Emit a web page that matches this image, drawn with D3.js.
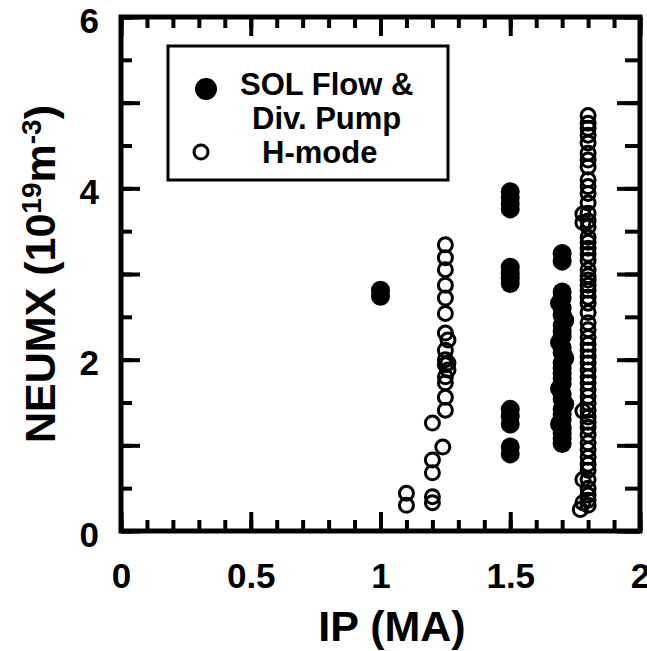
<!DOCTYPE html>
<html>
<head>
<meta charset="utf-8">
<script src="https://cdn.jsdelivr.net/npm/d3@7"></script>
<style>
  body { margin: 0; background: #ffffff; }
  text { font-family: "Liberation Sans", Arial, Helvetica, sans-serif; font-weight: bold; fill: #000; }
</style>
</head>
<body>
<div id="chart"></div>
<script>
// SOL Flow & Div. Pump (filled markers)
const solX = [1.0, 1.0,
  1.5, 1.5, 1.5, 1.5, 1.5, 1.5, 1.5, 1.5, 1.5, 1.5, 1.5, 1.5, 1.5,
  1.7, 1.7,
  1.7, 1.7, 1.69, 1.7, 1.7, 1.71, 1.7, 1.7, 1.7, 1.69, 1.7, 1.7, 1.71, 1.7, 1.7,
  1.7, 1.7, 1.7, 1.69, 1.7, 1.7, 1.71, 1.7, 1.7, 1.7, 1.69, 1.7, 1.7, 1.7, 1.7];
const solY = [2.74, 2.81,
  3.96, 3.89, 3.82, 3.76, 3.08, 3.01, 2.95, 2.89, 1.42, 1.34, 1.25, 0.98, 0.9,
  3.24, 3.15,
  2.79, 2.72, 2.66, 2.6, 2.52, 2.46, 2.4, 2.33, 2.27, 2.2, 2.14, 2.08, 2.02, 1.96, 1.9,
  1.84, 1.78, 1.72, 1.66, 1.6, 1.54, 1.48, 1.42, 1.36, 1.3, 1.25, 1.2, 1.14, 1.08, 1.02];

// H-mode (open markers)
const hX = [1.1, 1.1,
  1.2, 1.2, 1.2, 1.2, 1.2, 1.24,
  1.25, 1.25, 1.25, 1.25, 1.25, 1.25, 1.25, 1.26, 1.25, 1.25, 1.26, 1.25, 1.26, 1.25, 1.25, 1.25, 1.25,
  1.8, 1.8, 1.8, 1.8, 1.8, 1.8, 1.8, 1.8, 1.8, 1.8, 1.8, 1.8, 1.8, 1.8, 1.8, 1.8, 1.8,
  1.8, 1.8, 1.8, 1.8, 1.8, 1.8, 1.8, 1.8, 1.8, 1.8, 1.8, 1.8, 1.8, 1.8, 1.8, 1.8,
  1.8, 1.8, 1.8, 1.8, 1.8, 1.8, 1.8, 1.8, 1.8, 1.8, 1.8, 1.8, 1.8, 1.8, 1.8, 1.8,
  1.8, 1.8, 1.8, 1.8, 1.8, 1.8, 1.8,
  1.77, 1.78, 1.78, 1.78, 1.78, 1.78];
const hY = [0.44, 0.3,
  0.4, 0.33, 0.68, 0.83, 1.26, 0.98,
  3.34, 3.19, 3.05, 2.87, 2.72, 2.54, 2.31, 2.23, 2.11, 2.0, 1.96, 1.94, 1.88, 1.8, 1.73, 1.56, 1.41,
  4.85, 4.76, 4.7, 4.62, 4.53, 4.41, 4.33, 4.25, 4.1, 4.02, 3.94, 3.83, 3.71, 3.62, 3.55, 3.43, 3.37,
  3.3, 3.23, 3.16, 3.05, 2.98, 2.93, 2.87, 2.81, 2.73, 2.66, 2.55, 2.43, 2.35, 2.26, 2.18,
  2.11, 2.03, 1.96, 1.88, 1.8, 1.73, 1.65, 1.57, 1.49, 1.41, 1.33, 1.27, 1.21, 1.12, 1.03, 0.95,
  0.86, 0.78, 0.71, 0.6, 0.5, 0.42, 0.36, 0.3, 0.25,
  3.6, 3.7, 1.4, 0.6, 0.33, 0.21];

// axes
const xMajor = [0, 0.5, 1, 1.5, 2];
const xLabels = ["0", "0.5", "1", "1.5", "2"];
const yMajor = [0, 2, 4, 6];
const yLabels = ["0", "2", "4", "6"];

const WIDTH = 647;
const HEIGHT = 651;

window.onload = function() {
  let svg = d3.select("#chart").append("svg")
    .attr("width", WIDTH)
    .attr("height", HEIGHT);

  let x = d3.scaleLinear().domain([0, 2]).range([121, 640]);
  let y = d3.scaleLinear().domain([0, 6]).range([531, 17]);

  drawTicks(svg, x, y);
  drawPoints(svg, x, y);
  drawFrame(svg, x, y);
  drawLabels(svg, x, y);
  drawLegend(svg);
};

function tickAxis(svg, axis, transform) {
  let g = svg.append("g").attr("transform", transform).call(axis);
  g.select(".domain").remove();
  g.selectAll(".tick line").attr("stroke", "#000").attr("stroke-width", 4);
  return g;
}

function drawTicks(svg, x, y) {
  let xMinor = d3.range(0, 21).map(d => d / 10);
  let yMinor = d3.range(0, 13).map(d => d / 2);
  let yInt = d3.range(0, 7);

  // bottom / top
  tickAxis(svg, d3.axisBottom(x).tickValues(xMinor).tickSize(-11).tickFormat(""), "translate(0," + y(0) + ")");
  tickAxis(svg, d3.axisBottom(x).tickValues(xMajor).tickSize(-19).tickFormat(""), "translate(0," + y(0) + ")");
  tickAxis(svg, d3.axisTop(x).tickValues(xMinor).tickSize(-11).tickFormat(""), "translate(0," + y(6) + ")");
  tickAxis(svg, d3.axisTop(x).tickValues(xMajor).tickSize(-19).tickFormat(""), "translate(0," + y(6) + ")");

  // left / right
  tickAxis(svg, d3.axisLeft(y).tickValues(yMinor).tickSize(-11).tickFormat(""), "translate(" + x(0) + ",0)");
  tickAxis(svg, d3.axisLeft(y).tickValues(yInt).tickSize(-19).tickFormat(""), "translate(" + x(0) + ",0)");
  tickAxis(svg, d3.axisRight(y).tickValues(yMinor).tickSize(-15).tickFormat(""), "translate(" + x(2) + ",0)");
  tickAxis(svg, d3.axisRight(y).tickValues(yInt).tickSize(-23).tickFormat(""), "translate(" + x(2) + ",0)");
}

function drawFrame(svg, x, y) {
  svg.append("rect")
    .attr("x", x(0))
    .attr("y", y(6))
    .attr("width", x(2) - x(0))
    .attr("height", y(0) - y(6))
    .attr("fill", "none")
    .attr("stroke", "#000")
    .attr("stroke-width", 5);
}

function drawPoints(svg, x, y) {
  svg.append("g").selectAll("circle")
    .data(solX)
    .enter()
    .append("circle")
    .attr("cx", d => x(d))
    .attr("cy", (d, i) => y(solY[i]))
    .attr("r", 9.5)
    .attr("fill", "#000");

  svg.append("g").selectAll("circle")
    .data(hX)
    .enter()
    .append("circle")
    .attr("cx", d => x(d))
    .attr("cy", (d, i) => y(hY[i]))
    .attr("r", 7)
    .attr("fill", "none")
    .attr("stroke", "#000")
    .attr("stroke-width", 3);
}

function drawLabels(svg, x, y) {
  let xl = svg.append("g")
    .attr("transform", "translate(0," + y(0) + ")")
    .call(d3.axisBottom(x).tickValues(xMajor).tickSize(0).tickPadding(32)
      .tickFormat((d, i) => xLabels[i]));
  xl.select(".domain").remove();
  xl.selectAll("text").style("font-size", "35px").style("font-family", null);

  let yl = svg.append("g")
    .attr("transform", "translate(" + x(0) + ",4)")
    .call(d3.axisLeft(y).tickValues(yMajor).tickSize(0).tickPadding(22)
      .tickFormat((d, i) => yLabels[i]));
  yl.select(".domain").remove();
  yl.selectAll("text").style("font-size", "35px").style("font-family", null);

  svg.append("text")
    .attr("x", 392)
    .attr("y", 641)
    .attr("text-anchor", "middle")
    .style("font-size", "43px")
    .text("IP (MA)");

  let yt = svg.append("text")
    .attr("transform", "translate(55," + ((y(0) + y(6)) / 2) + ") rotate(-90)")
    .attr("text-anchor", "middle")
    .style("font-size", "43px");
  yt.append("tspan").text("NEUMX (10");
  yt.append("tspan").attr("dy", -14).style("font-size", "28px").text("19");
  yt.append("tspan").attr("dy", 14).text("m");
  yt.append("tspan").attr("dy", -14).style("font-size", "28px").text("-3");
  yt.append("tspan").attr("dy", 14).text(")");
}

function drawLegend(svg) {
  let lg = svg.append("g");
  lg.append("rect")
    .attr("x", 168).attr("y", 46)
    .attr("width", 280).attr("height", 134)
    .attr("fill", "#fff")
    .attr("stroke", "#000")
    .attr("stroke-width", 3);

  lg.append("circle").attr("cx", 206).attr("cy", 89).attr("r", 11).attr("fill", "#000");
  lg.append("circle").attr("cx", 201).attr("cy", 152).attr("r", 7)
    .attr("fill", "none").attr("stroke", "#000").attr("stroke-width", 3);

  lg.append("text").attr("x", 240).attr("y", 95).style("font-size", "31px").text("SOL Flow &");
  lg.append("text").attr("x", 252).attr("y", 129).style("font-size", "31px").text("Div. Pump");
  lg.append("text").attr("x", 262).attr("y", 163).style("font-size", "31px").text("H-mode");
}
</script>
</body>
</html>
